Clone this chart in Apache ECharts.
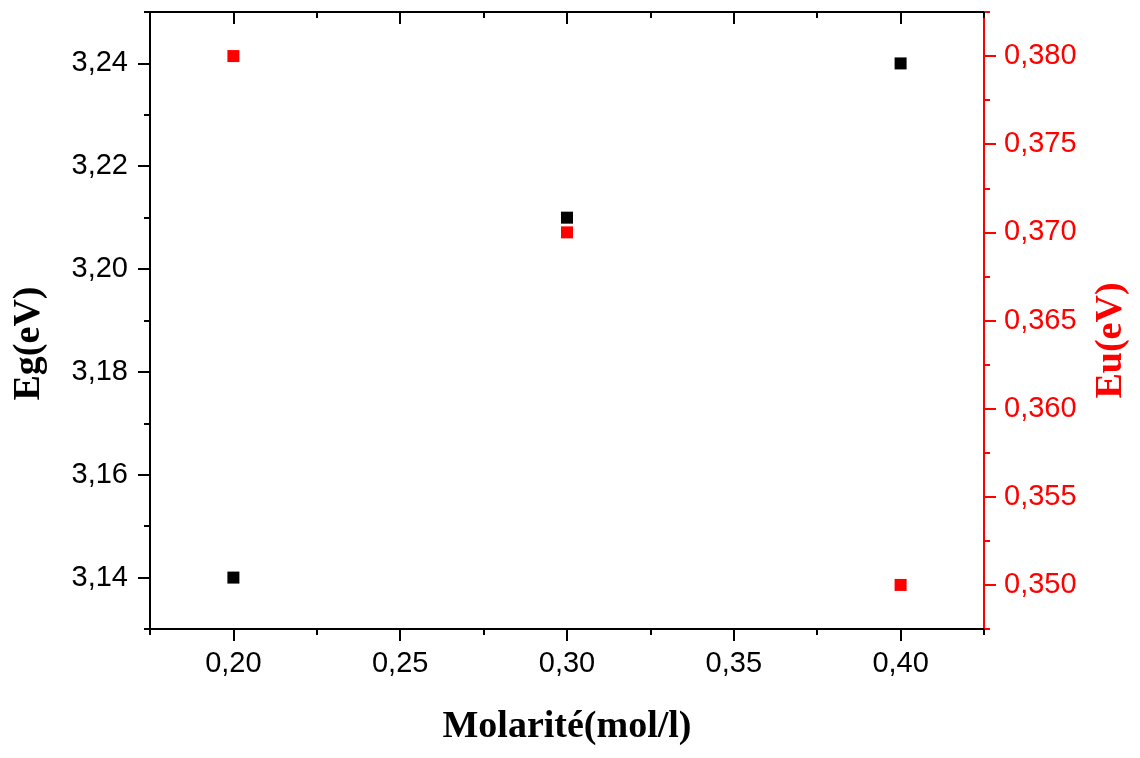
<!DOCTYPE html>
<html>
<head>
<meta charset="utf-8">
<script src="https://cdn.jsdelivr.net/npm/echarts@6/dist/echarts.min.js"></script>
<style>
html,body{margin:0;padding:0;background:#fff;}
#chart{width:1140px;height:758px;}
</style>
</head>
<body>
<div id="chart"></div>
<script>
// ---- data ----
const molarity = [0.20, 0.30, 0.40];
const egValues = [3.14, 3.21, 3.24];
const euValues = [0.380, 0.370, 0.350];

// ---- tick values ----
const xMajorTicks = [0.20, 0.25, 0.30, 0.35, 0.40];
const xMinorTicks = [0.175, 0.225, 0.275, 0.325, 0.375, 0.425];
const egMajorTicks = [3.14, 3.16, 3.18, 3.20, 3.22, 3.24];
const egMinorTicks = [3.13, 3.15, 3.17, 3.19, 3.21, 3.23, 3.25];
const euMajorTicks = [0.350, 0.355, 0.360, 0.365, 0.370, 0.375, 0.380];
const euMinorTicks = [0.3475, 0.3525, 0.3575, 0.3625, 0.3675, 0.3725, 0.3775, 0.3825];

const xName = 'Molarité(mol/l)';
const egName = 'Eg(eV)';
const euName = 'Eu(eV)';

const SANS = '"Liberation Sans", Arial, sans-serif';
const SERIF = '"Liberation Serif", "Times New Roman", serif';
const BLACK = '#000000';
const RED = '#ff0000';

function comma(d) { return v => Number(v).toFixed(d).replace('.', ','); }

function minorAxis(base, ticks, color, inside) {
  return Object.assign({}, base, {
    name: '',
    axisLine: { show: false },
    axisLabel: { show: false },
    axisTick: { show: true, inside: !!inside, length: 6, customValues: ticks, lineStyle: { color: color, width: 2 } },
    splitLine: { show: false }
  });
}

const xBase = { type: 'value', min: 0.175, max: 0.425, gridIndex: 0 };
const egBase = { type: 'value', min: 3.13, max: 3.25, gridIndex: 0 };
const euBase = { type: 'value', min: 0.3475, max: 0.3825, gridIndex: 0 };

const option = {
  animation: false,
  backgroundColor: '#ffffff',
  grid: { left: 150, right: 156, top: 12, bottom: 129, containLabel: false },
  xAxis: [
    Object.assign({}, xBase, {
      position: 'bottom',
      name: xName,
      nameLocation: 'middle',
      nameGap: 79,
      nameTextStyle: { fontFamily: SERIF, fontWeight: 'bold', fontSize: 38, color: BLACK },
      axisLine: { show: true, lineStyle: { color: BLACK, width: 2 } },
      axisTick: { show: true, length: 12, customValues: xMajorTicks, lineStyle: { color: BLACK, width: 2 } },
      axisLabel: { show: true, customValues: xMajorTicks, formatter: comma(2), fontFamily: SANS, fontSize: 29, color: BLACK, margin: 20 },
      splitLine: { show: false }
    }),
    minorAxis(Object.assign({}, xBase, { position: 'bottom' }), xMinorTicks, BLACK, false),
    Object.assign({}, xBase, {
      position: 'top',
      axisLine: { show: true, lineStyle: { color: BLACK, width: 2 } },
      axisTick: { show: true, inside: true, length: 12, customValues: xMajorTicks, lineStyle: { color: BLACK, width: 2 } },
      axisLabel: { show: false },
      splitLine: { show: false }
    }),
    minorAxis(Object.assign({}, xBase, { position: 'top' }), xMinorTicks, BLACK, true)
  ],
  yAxis: [
    Object.assign({}, egBase, {
      position: 'left',
      name: egName,
      nameLocation: 'middle',
      nameGap: 102,
      nameTextStyle: { fontFamily: SERIF, fontWeight: 'bold', fontSize: 38, color: BLACK, padding: [0, 46, 0, 0] },
      axisLine: { show: true, lineStyle: { color: BLACK, width: 2 } },
      axisTick: { show: true, length: 12, customValues: egMajorTicks, lineStyle: { color: BLACK, width: 2 } },
      axisLabel: { show: true, customValues: egMajorTicks, formatter: comma(2), fontFamily: SANS, fontSize: 29, color: BLACK, margin: 22 },
      splitLine: { show: false }
    }),
    minorAxis(Object.assign({}, egBase, { position: 'left' }), egMinorTicks, BLACK, false),
    Object.assign({}, euBase, {
      position: 'right',
      name: euName,
      nameLocation: 'middle',
      nameGap: 108,
      nameTextStyle: { fontFamily: SERIF, fontWeight: 'bold', fontSize: 38, color: RED, padding: [0, 40, 0, 0] },
      axisLine: { show: true, lineStyle: { color: RED, width: 2 } },
      axisTick: { show: true, length: 12, customValues: euMajorTicks, lineStyle: { color: RED, width: 2 } },
      axisLabel: { show: true, customValues: euMajorTicks, formatter: comma(3), fontFamily: SANS, fontSize: 29, color: RED, margin: 20 },
      splitLine: { show: false }
    }),
    minorAxis(Object.assign({}, euBase, { position: 'right' }), euMinorTicks, RED, false)
  ],
  series: [
    {
      name: egName,
      type: 'scatter',
      xAxisIndex: 0,
      yAxisIndex: 0,
      symbol: 'rect',
      symbolSize: 12,
      itemStyle: { color: BLACK, opacity: 1 },
      data: molarity.map((m, i) => [m, egValues[i]])
    },
    {
      name: euName,
      type: 'scatter',
      xAxisIndex: 0,
      yAxisIndex: 2,
      symbol: 'rect',
      symbolSize: 12,
      itemStyle: { color: RED, opacity: 1 },
      data: molarity.map((m, i) => [m, euValues[i]])
    }
  ]
};

const chart = echarts.init(document.getElementById('chart'), null, { renderer: 'canvas' });
chart.setOption(option);
</script>
</body>
</html>
